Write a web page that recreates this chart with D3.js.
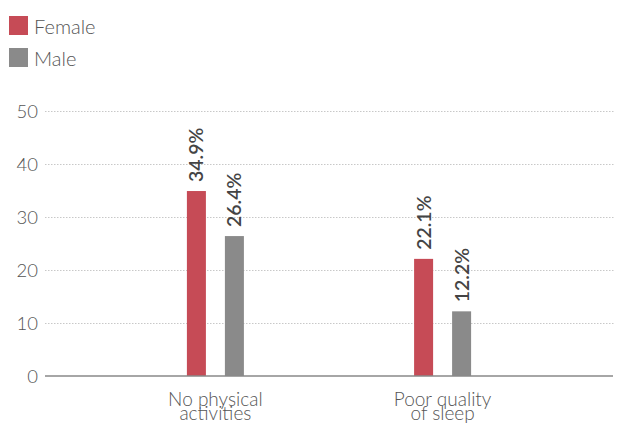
<!DOCTYPE html>
<html>
<head>
<meta charset="utf-8">
<script src="https://cdn.jsdelivr.net/npm/d3@7"></script>
<style>
  html, body { margin: 0; padding: 0; background: #fff; }
  #chart { width: 625px; height: 435px; }
  text { font-family: Lato, "Open Sans", sans-serif; }
</style>
</head>
<body>
<div id="chart"></div>
<script>
(function () {
  const categories = [["No physical", "activities"], ["Poor quality", "of sleep"]];
  const series = ["Female", "Male"];
  const female = [34.9, 22.1];
  const male = [26.4, 12.2];
  const yTicks = [0, 10, 20, 30, 40, 50];

  const COLORS = { Female: "#c64b56", Male: "#8a8a8a" };
  const WIDTH = 625, HEIGHT = 435;
  const MARGIN = { top: 111, right: 12, bottom: 59, left: 45 };

  const svg = d3.select("#chart").append("svg")
    .attr("width", WIDTH)
    .attr("height", HEIGHT);

  const rows = categories.map((c, i) => ({ key: c.join(" "), lines: c, Female: female[i], Male: male[i] }));

  const x = d3.scalePoint()
    .domain(rows.map(d => d.key))
    .range([MARGIN.left, WIDTH - MARGIN.right])
    .padding(0.75);

  const xs = d3.scaleBand()
    .domain(series)
    .range([-38, 38])
    .paddingInner(0.5)
    .paddingOuter(0.25);

  const y = d3.scaleLinear()
    .domain([0, 50])
    .range([HEIGHT - MARGIN.bottom, MARGIN.top]);

  // gridlines + y labels
  const grid = svg.append("g");
  grid.selectAll("line")
    .data(yTicks.filter(t => t > 0))
    .join("line")
    .attr("x1", MARGIN.left)
    .attr("x2", WIDTH - MARGIN.right + 2)
    .attr("y1", d => Math.round(y(d)) + 0.5)
    .attr("y2", d => Math.round(y(d)) + 0.5)
    .attr("stroke", "#c8c8c8")
    .attr("stroke-width", 1)
    .attr("stroke-dasharray", "1.5,1.5");

  grid.selectAll("text")
    .data(yTicks)
    .join("text")
    .attr("x", 38)
    .attr("y", d => y(d))
    .attr("dy", "0.36em")
    .attr("text-anchor", "end")
    .attr("font-size", "18.5px")
    .attr("font-weight", 300)
    .attr("fill", "#555")
    .text(d => d);

  // bars
  const groups = svg.append("g")
    .selectAll("g")
    .data(rows)
    .join("g")
    .attr("transform", d => `translate(${x(d.key)},0)`);

  groups.selectAll("rect")
    .data(d => series.map(s => ({ s, v: d[s] })))
    .join("rect")
    .attr("x", d => xs(d.s))
    .attr("width", xs.bandwidth())
    .attr("y", d => y(d.v))
    .attr("height", d => y(0) - y(d.v))
    .attr("fill", d => COLORS[d.s]);

  groups.selectAll("text.val")
    .data(d => series.map(s => ({ s, v: d[s] })))
    .join("text")
    .attr("class", "val")
    .attr("transform", d => `translate(${xs(d.s) + xs.bandwidth() / 2 + 7},${y(d.v) - 9}) rotate(-90)`)
    .attr("font-size", "19.5px")
    .attr("font-weight", 600)
    .attr("fill", "#444")
    .text(d => d.v.toFixed(1) + "%");

  // axis line
  svg.append("line")
    .attr("x1", MARGIN.left)
    .attr("x2", WIDTH - MARGIN.right)
    .attr("y1", y(0))
    .attr("y2", y(0))
    .attr("stroke", "#888")
    .attr("stroke-width", 1.6);

  // category labels
  const cat = svg.append("g")
    .selectAll("text")
    .data(rows)
    .join("text")
    .attr("x", d => x(d.key))
    .attr("y", 405.5)
    .attr("text-anchor", "middle")
    .attr("font-size", "19px")
    .attr("font-weight", 300)
    .attr("fill", "#555");
  cat.selectAll("tspan")
    .data(d => d.lines)
    .join("tspan")
    .attr("x", function () { return d3.select(this.parentNode).attr("x"); })
    .attr("dy", (d, i) => i === 0 ? 0 : 14.5)
    .text(d => d);

  // legend
  const legend = svg.append("g")
    .selectAll("g")
    .data(series)
    .join("g")
    .attr("transform", (d, i) => `translate(9,${16 + i * 32})`);
  legend.append("rect")
    .attr("width", 19)
    .attr("height", 19)
    .attr("fill", d => COLORS[d]);
  legend.append("text")
    .attr("x", 25)
    .attr("y", 18)
    .attr("font-size", "20px")
    .attr("font-weight", 300)
    .attr("fill", "#555")
    .text(d => d);
})();
</script>
</body>
</html>
